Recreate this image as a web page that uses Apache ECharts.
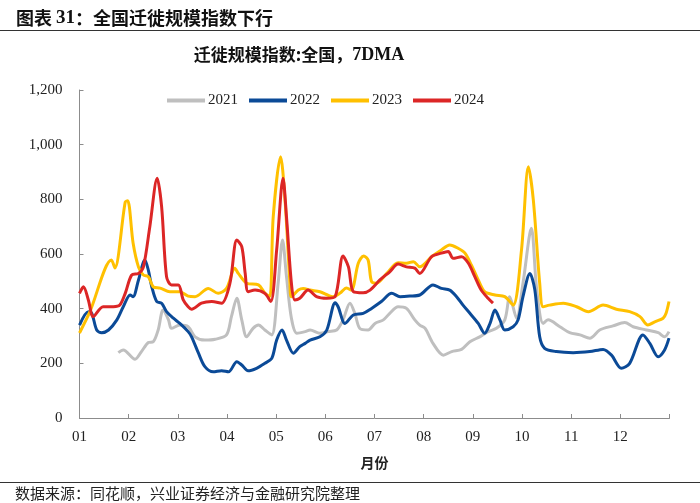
<!DOCTYPE html>
<html>
<head>
<meta charset="utf-8">
<script src="https://cdn.jsdelivr.net/npm/echarts@6/dist/echarts.min.js"></script>
<style>html,body{margin:0;padding:0;background:#fff;}#c{width:700px;height:503px;}</style>
</head>
<body>
<div id="c"></div>
<script>
// month position (0 = Jan 1, 12 = Dec 31) and index value
const monthLabels = ['01','02','03','04','05','06','07','08','09','10','11','12'];
const yTicks = [0, 200, 400, 600, 800, 1000, 1200];
const seriesNames = ['2021', '2022', '2023', '2024'];

const d2021 = [[0.79,239],[0.89,249],[1.13,215],[1.26,243],[1.40,276],[1.50,279],[1.60,322],[1.70,395],[1.81,359],[1.87,328],[2.04,340],[2.21,334],[2.35,297],[2.55,285],[2.76,288],[2.99,304],[3.09,371],[3.20,438],[3.30,359],[3.40,297],[3.53,328],[3.64,340],[3.77,322],[3.91,304],[4.04,493],[4.13,651],[4.21,517],[4.31,365],[4.42,310],[4.59,316],[4.69,322],[4.89,310],[5.06,316],[5.23,322],[5.36,359],[5.50,420],[5.60,383],[5.70,328],[5.87,322],[6.01,346],[6.18,359],[6.31,383],[6.48,407],[6.65,401],[6.82,359],[6.92,340],[7.03,328],[7.19,273],[7.40,230],[7.57,243],[7.77,251],[7.94,279],[8.14,297],[8.31,316],[8.48,328],[8.65,359],[8.75,444],[8.89,365],[9.02,493],[9.19,694],[9.30,468],[9.43,346],[9.53,359],[9.77,334],[9.97,312],[10.18,304],[10.38,292],[10.58,322],[10.85,337],[11.09,349],[11.26,334],[11.53,322],[11.77,312],[11.90,297],[11.99,316]];

const d2022 = [[0,340],[0.18,389],[0.25,383],[0.35,322],[0.45,312],[0.59,322],[0.76,359],[0.89,407],[1.03,450],[1.09,444],[1.20,505],[1.33,578],[1.40,541],[1.47,480],[1.57,426],[1.67,420],[1.77,389],[1.91,365],[2.04,346],[2.21,316],[2.28,297],[2.42,237],[2.55,188],[2.72,169],[2.89,173],[3.03,169],[3.20,206],[3.30,194],[3.43,173],[3.60,182],[3.77,200],[3.91,218],[4.01,285],[4.12,322],[4.21,285],[4.35,237],[4.48,261],[4.59,273],[4.69,285],[4.89,297],[5.03,322],[5.20,422],[5.26,407],[5.40,346],[5.57,377],[5.77,383],[5.94,401],[6.14,426],[6.35,456],[6.52,444],[6.72,446],[6.92,450],[7.19,487],[7.36,474],[7.53,468],[7.67,444],[7.80,413],[7.94,383],[8.11,346],[8.24,310],[8.35,346],[8.45,395],[8.55,359],[8.65,322],[8.82,334],[8.92,359],[9.02,444],[9.16,529],[9.26,470],[9.36,297],[9.46,255],[9.70,243],[10.04,239],[10.38,243],[10.65,251],[10.82,230],[11.02,182],[11.19,200],[11.46,304],[11.60,273],[11.77,224],[11.90,249],[11.99,292]];

const d2023 = [[0,311],[0.21,388],[0.65,578],[0.72,549],[0.93,790],[0.98,795],[1.09,640],[1.20,552],[1.30,523],[1.40,517],[1.50,480],[1.64,475],[1.84,462],[2.04,462],[2.21,446],[2.35,444],[2.62,474],[2.82,456],[2.99,474],[3.16,548],[3.23,529],[3.40,493],[3.64,487],[3.77,457],[3.87,444],[3.94,736],[4.09,956],[4.18,798],[4.28,493],[4.31,444],[4.45,468],[4.55,474],[4.69,468],[4.89,462],[5.15,444],[5.30,457],[5.43,476],[5.53,468],[5.67,566],[5.78,593],[5.87,578],[5.94,499],[6.04,493],[6.25,529],[6.48,568],[6.65,566],[6.79,572],[6.92,553],[7.16,590],[7.36,615],[7.53,633],[7.70,621],[7.84,603],[7.97,560],[8.11,505],[8.24,462],[8.45,450],[8.65,444],[8.82,413],[8.99,615],[9.13,919],[9.23,798],[9.36,493],[9.43,407],[9.56,413],[9.84,420],[10.11,407],[10.35,389],[10.65,413],[10.92,398],[11.19,389],[11.40,371],[11.56,340],[11.70,352],[11.87,365],[11.93,383],[11.99,426]];

const d2024 = [[0,456],[0.08,480],[0.18,432],[0.28,371],[0.48,407],[0.69,407],[0.82,413],[0.93,456],[1.06,523],[1.20,529],[1.30,553],[1.43,700],[1.58,877],[1.67,773],[1.77,517],[1.87,487],[2.01,487],[2.11,432],[2.21,407],[2.28,398],[2.48,420],[2.69,426],[2.89,420],[3.06,493],[3.20,651],[3.30,627],[3.37,529],[3.43,462],[3.57,468],[3.77,456],[3.89,426],[4.01,615],[4.14,877],[4.21,736],[4.31,493],[4.38,432],[4.48,438],[4.65,468],[4.82,444],[5.03,438],[5.20,444],[5.36,593],[5.47,553],[5.57,462],[5.77,458],[5.91,468],[6.11,505],[6.31,535],[6.48,563],[6.65,553],[6.82,548],[6.92,529],[7.16,590],[7.36,603],[7.50,609],[7.60,584],[7.77,590],[7.91,566],[8.04,517],[8.17,468],[8.31,438],[8.41,420]];

const colors = ['#BFBFBF', '#0B4A97', '#FFC000', '#DC2626'];
const allData = [d2021, d2022, d2023, d2024];

const serif = '"Liberation Serif", "Noto Sans CJK SC", serif';
const cjk = '"Noto Sans CJK SC", sans-serif';

const chart = echarts.init(document.getElementById('c'));
chart.setOption({
  animation: false,
  backgroundColor: '#fff',
  grid: { left: 79.5, right: 30.5, top: 90, bottom: 85, containLabel: false },
  legend: {
    left: 162, top: 88,
    itemWidth: 38, itemHeight: 4, itemGap: 11,
    icon: 'rect',
    textStyle: { fontFamily: serif, fontSize: 15, color: '#222', padding: [0,0,0,-2] },
    data: seriesNames
  },
  xAxis: {
    type: 'value', min: 0, max: 12, interval: 1,
    name: '月份', nameLocation: 'middle', nameGap: 38,
    nameTextStyle: { fontFamily: cjk, fontSize: 14, fontWeight: 'bold', color: '#222' },
    axisLine: { show: true, lineStyle: { color: '#8c8c8c', width: 1 } },
    axisTick: { show: true, inside: true, length: 4, lineStyle: { color: '#8c8c8c' } },
    axisLabel: {
      margin: 12, fontFamily: serif, fontSize: 15, color: '#222',
      formatter: v => (v < 12 ? monthLabels[v] : '')
    },
    splitLine: { show: false }
  },
  yAxis: {
    type: 'value', min: yTicks[0], max: yTicks[yTicks.length-1], interval: 200,
    axisLine: { show: true, lineStyle: { color: '#8c8c8c', width: 1 } },
    axisTick: { show: true, inside: true, length: 4, lineStyle: { color: '#8c8c8c' } },
    axisLabel: {
      margin: 17, fontFamily: serif, fontSize: 15, color: '#222',
      formatter: v => v.toLocaleString('en-US')
    },
    splitLine: { show: false }
  },
  series: allData.map((d, i) => ({
    name: seriesNames[i], type: 'line', data: d,
    showSymbol: false, symbol: 'none',
    smooth: 0.3,
    lineStyle: { color: colors[i], width: 3 },
    itemStyle: { color: colors[i] },
    z: 2 + i
  })),
  graphic: [
    { type: 'text', x: 16, y: 18, style: {
      text: '{a|图表 }{b|31}{a|：全国迁徙规模指数下行}',
      verticalAlign: 'middle',
      rich: {
        a: { fontFamily: cjk, fontSize: 18, fontWeight: 'bold', fill: '#111' },
        b: { fontFamily: serif, fontSize: 19, fontWeight: 'bold', fill: '#111' }
      } } },
    { type: 'line', shape: { x1: 0, y1: 30.5, x2: 700, y2: 30.5 }, style: { stroke: '#333', lineWidth: 1 } },
    { type: 'text', x: 299, y: 55, style: {
      text: '{a|迁徙规模指数:全国，}{b|7DMA}',
      align: 'center', verticalAlign: 'middle',
      rich: {
        a: { fontFamily: cjk, fontSize: 17, fontWeight: 'bold', fill: '#111' },
        b: { fontFamily: serif, fontSize: 18, fontWeight: 'bold', fill: '#111' }
      } } },
    { type: 'line', shape: { x1: 0, y1: 482.5, x2: 700, y2: 482.5 }, style: { stroke: '#333', lineWidth: 1 } },
    { type: 'text', x: 15, y: 493, style: { text: '数据来源：同花顺，兴业证券经济与金融研究院整理', fontFamily: cjk, fontSize: 15, fill: '#222', verticalAlign: 'middle' } }
  ]
});
</script>
</body>
</html>
